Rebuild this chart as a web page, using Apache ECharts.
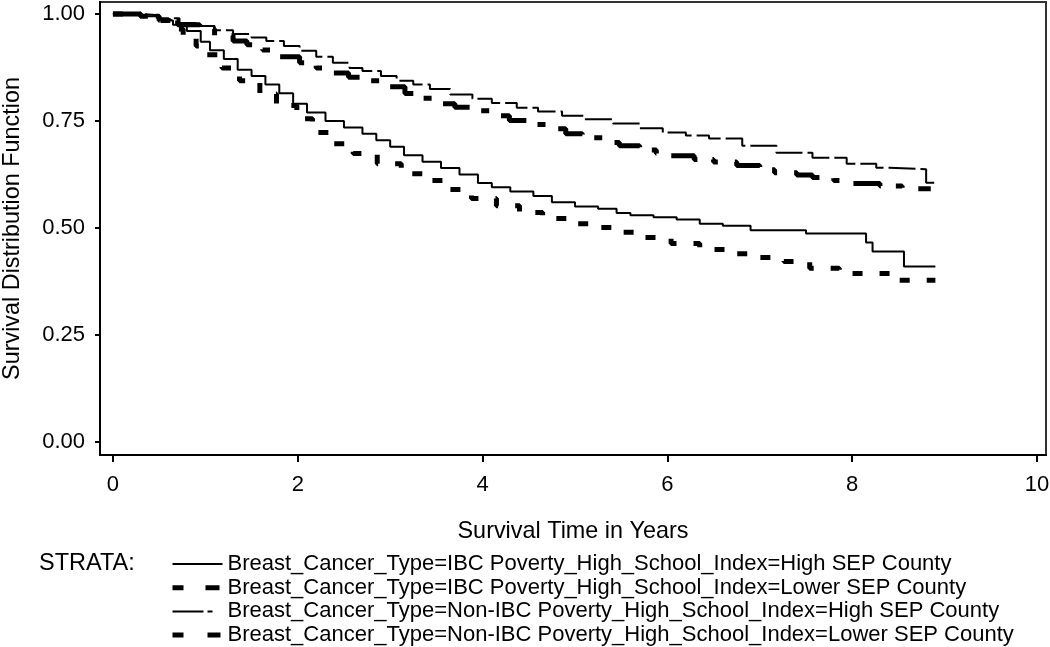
<!DOCTYPE html>
<html>
<head>
<meta charset="utf-8">
<script src="https://cdn.jsdelivr.net/npm/echarts@6/dist/echarts.min.js"></script>
<style>
html,body{margin:0;padding:0;background:#fff;}
#chart{width:1050px;height:647px;}
</style>
</head>
<body>
<div id="chart"></div>
<script>
// ---- data ----
const xTicks = [0, 2, 4, 6, 8, 10];
const yTicks = [0, 0.25, 0.5, 0.75, 1.0];
const seriesNames = [
  'Breast_Cancer_Type=IBC Poverty_High_School_Index=High SEP County',
  'Breast_Cancer_Type=IBC Poverty_High_School_Index=Lower SEP County',
  'Breast_Cancer_Type=Non-IBC Poverty_High_School_Index=High SEP County',
  'Breast_Cancer_Type=Non-IBC Poverty_High_School_Index=Lower SEP County'
];
const ibcHighT = [0, 0.3, 0.5, 0.65, 0.8, 0.95, 1.05, 1.2, 1.35, 1.5, 1.65, 1.8, 1.95, 2.1, 2.3, 2.5, 2.7, 2.85, 3.0, 3.15, 3.35, 3.55, 3.75, 3.95, 4.1, 4.3, 4.55, 4.75, 5.0, 5.25, 5.45, 5.6, 5.85, 6.1, 6.35, 6.6, 6.9, 7.5, 8.15, 8.22, 8.56, 8.9];
const ibcHighS = [1.0, 0.995, 0.985, 0.975, 0.96, 0.935, 0.915, 0.895, 0.87, 0.855, 0.835, 0.815, 0.79, 0.77, 0.75, 0.735, 0.72, 0.705, 0.69, 0.67, 0.655, 0.64, 0.625, 0.605, 0.595, 0.585, 0.575, 0.56, 0.55, 0.545, 0.535, 0.53, 0.525, 0.52, 0.51, 0.505, 0.495, 0.487, 0.466, 0.445, 0.41, 0.41];
const ibcLowT = [0, 0.3, 0.5, 0.62, 0.76, 0.9, 1.0, 1.18, 1.37, 1.59, 1.77, 1.99, 2.16, 2.38, 2.6, 2.86, 3.12, 3.39, 3.62, 3.88, 4.15, 4.4, 4.65, 4.92, 5.19, 5.48, 5.75, 6.04, 6.35, 6.62, 6.94, 7.26, 7.54, 7.86, 8.48, 8.9];
const ibcLowS = [1.0, 0.995, 0.985, 0.965, 0.944, 0.925, 0.905, 0.874, 0.844, 0.813, 0.786, 0.755, 0.723, 0.697, 0.674, 0.65, 0.627, 0.611, 0.59, 0.569, 0.552, 0.536, 0.522, 0.51, 0.501, 0.49, 0.478, 0.464, 0.45, 0.44, 0.431, 0.422, 0.406, 0.394, 0.378, 0.378];
const nonHighT = [0, 0.3, 0.5, 0.72, 0.94, 1.1, 1.3, 1.5, 1.66, 1.85, 2.02, 2.2, 2.38, 2.56, 2.7, 2.9, 3.07, 3.25, 3.43, 3.65, 3.89, 4.1, 4.37, 4.6, 4.86, 5.1, 5.41, 5.7, 5.95, 6.2, 6.45, 6.81, 7.18, 7.57, 7.94, 8.26, 8.4, 8.8, 8.9];
const nonHighS = [1.0, 0.997, 0.99, 0.979, 0.972, 0.962, 0.953, 0.945, 0.937, 0.925, 0.914, 0.9, 0.886, 0.874, 0.867, 0.855, 0.844, 0.835, 0.825, 0.812, 0.802, 0.792, 0.781, 0.772, 0.762, 0.754, 0.744, 0.733, 0.723, 0.716, 0.709, 0.692, 0.676, 0.664, 0.65, 0.641, 0.637, 0.606, 0.606];
const nonLowT = [0, 0.3, 0.5, 0.7, 0.94, 1.1, 1.3, 1.45, 1.62, 1.8, 2.02, 2.2, 2.38, 2.55, 2.7, 2.9, 3.16, 3.3, 3.5, 3.7, 3.89, 4.1, 4.29, 4.5, 4.69, 4.9, 5.08, 5.3, 5.48, 5.7, 5.88, 6.02, 6.29, 6.5, 6.75, 7.0, 7.16, 7.4, 7.57, 7.8, 8.0, 8.3, 8.54, 8.85];
const nonLowS = [1.0, 0.995, 0.985, 0.975, 0.965, 0.95, 0.937, 0.928, 0.916, 0.9, 0.886, 0.874, 0.862, 0.852, 0.844, 0.83, 0.814, 0.803, 0.79, 0.782, 0.774, 0.762, 0.751, 0.742, 0.732, 0.72, 0.711, 0.7, 0.692, 0.682, 0.674, 0.669, 0.66, 0.654, 0.646, 0.636, 0.629, 0.624, 0.618, 0.611, 0.604, 0.598, 0.592, 0.592];

// ---- chart ----
const FONT = "'Liberation Sans', Arial, sans-serif";
function pairs(t, s) { return t.map((v, i) => [v, s[i]]); }
const styles = [
  { width: 2, type: 'solid' },
  { width: 5, type: [10, 17] },
  { width: 2, type: [27, 5] },
  { width: 5, type: [30, 15, 8, 17] }
];
const legendKeys = [
  { width: 2, type: 'solid' },
  { width: 5, type: [11, 22, 14, 10] },
  { width: 2, type: [31, 4, 5, 20] },
  { width: 5, type: [11, 24, 13, 10] }
];
const dataSets = [pairs(ibcHighT, ibcHighS), pairs(ibcLowT, ibcLowS), pairs(nonHighT, nonHighS), pairs(nonLowT, nonLowS)];

const chart = echarts.init(document.getElementById('chart'), null, { renderer: 'canvas' });
chart.setOption({
  animation: false,
  backgroundColor: '#fff',
  textStyle: { fontFamily: FONT, color: '#000' },
  grid: { left: 100, right: 4, top: 2, bottom: 192, show: true, borderColor: '#333', borderWidth: 2,
    containLabel: false, outerBoundsMode: 'none' },
  xAxis: {
    type: 'value', min: -0.14, max: 10.097,
    name: 'Survival Time in Years', nameLocation: 'middle', nameGap: 65,
    nameTextStyle: { fontSize: 23.4, color: '#000', fontFamily: FONT },
    axisLine: { onZero: false, lineStyle: { color: '#000', width: 2 } },
    axisTick: { show: true, customValues: xTicks, length: 7, lineStyle: { color: '#000', width: 2 } },
    axisLabel: { customValues: xTicks, fontSize: 22, color: '#000', margin: 19, fontFamily: FONT },
    splitLine: { show: false }
  },
  yAxis: {
    type: 'value', min: -0.0303, max: 1.028,
    name: 'Survival Distribution Function', nameLocation: 'middle', nameGap: 76,
    nameTextStyle: { fontSize: 23.4, color: '#000', fontFamily: FONT },
    axisLine: { show: true, onZero: false, lineStyle: { color: '#000', width: 2 } },
    axisTick: { show: true, customValues: yTicks, length: 5, lineStyle: { color: '#000', width: 2 } },
    axisLabel: { customValues: yTicks, fontSize: 22, color: '#000', margin: 15, fontFamily: FONT,
      formatter: v => v.toFixed(2) },
    splitLine: { show: false }
  },
  legend: {
    orient: 'vertical', left: 170, top: 553, padding: 0,
    itemWidth: 50, itemHeight: 14, itemGap: 1.7,
    itemStyle: { opacity: 0 },
    textStyle: { fontSize: 22, lineHeight: 22, color: '#000', fontFamily: FONT },
    data: seriesNames.map((n, i) => ({ name: n, lineStyle: { color: '#000', width: legendKeys[i].width, type: legendKeys[i].type } }))
  },
  graphic: [{
    type: 'text', left: 39, top: 552,
    style: { text: 'STRATA:', font: "23.5px " + FONT, fill: '#000' }
  }],
  series: seriesNames.map((n, i) => ({
    name: n, type: 'line', step: 'end', symbol: 'none', showSymbol: false,
    data: dataSets[i],
    lineStyle: { color: '#000', width: styles[i].width, type: styles[i].type },
    itemStyle: { color: '#000' }
  }))
});
</script>
</body>
</html>
